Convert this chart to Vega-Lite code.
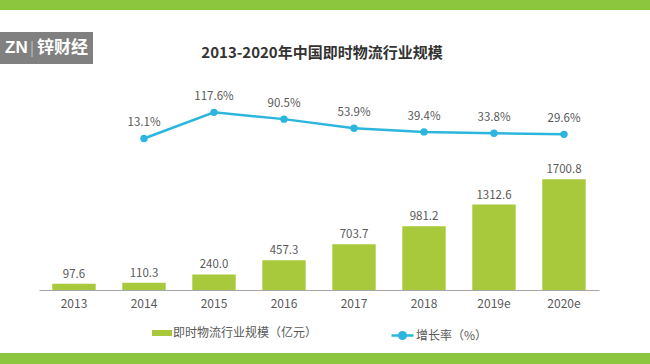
{
  "$schema": "https://vega.github.io/schema/vega-lite/v6.json",
  "width": 560,
  "height": 210,
  "autosize": {"type": "none"},
  "padding": {"left": 39, "top": 80, "right": 51, "bottom": 74},
  "background": "white",
  "config": {
    "view": {"stroke": null},
    "font": "Noto Sans CJK SC",
    "legend": {"labelFont": "Noto Sans CJK SC", "labelFontSize": 12, "labelColor": "#595959", "padding": 0, "labelOffset": 1}
  },
  "title": {
    "text": "2013-2020年中国即时物流行业规模",
    "font": "Noto Sans CJK SC",
    "fontSize": 15,
    "fontWeight": "bold",
    "color": "#333333",
    "anchor": "middle",
    "baseline": "middle",
    "dx": 3,
    "offset": -68
  },
  "data": {
    "values": [
      {"year": "2013", "scale": 97.6, "rate": null},
      {"year": "2014", "scale": 110.3, "rate": 0.131},
      {"year": "2015", "scale": 240.0, "rate": 1.176},
      {"year": "2016", "scale": 457.3, "rate": 0.905},
      {"year": "2017", "scale": 703.7, "rate": 0.539},
      {"year": "2018", "scale": 981.2, "rate": 0.394},
      {"year": "2019e", "scale": 1312.6, "rate": 0.338},
      {"year": "2020e", "scale": 1700.8, "rate": 0.296}
    ]
  },
  "encoding": {
    "x": {
      "field": "year",
      "type": "ordinal",
      "sort": null,
      "scale": {"paddingInner": 0.38, "paddingOuter": 0.19},
      "axis": {
        "title": null,
        "labelAngle": 0,
        "ticks": false,
        "labelPadding": 8,
        "labelFontSize": 12,
        "labelColor": "#595959",
        "labelFont": "Noto Sans CJK SC",
        "domainColor": "#a6a6a6",
        "domainWidth": 1.2
      }
    }
  },
  "layer": [
    {
      "layer": [
        {
          "mark": {"type": "bar"},
          "encoding": {
            "y": {"field": "scale", "type": "quantitative", "scale": {"domain": [0, 3226]}, "axis": null},
            "fill": {
              "datum": "即时物流行业规模（亿元）",
              "scale": {"range": ["#a7c93b"]},
              "legend": {
                "title": null,
                "orient": "none",
                "legendX": 113,
                "legendY": 243,
                "symbolType": "M-1,-0.3H1V0.3H-1Z",
                "symbolSize": 400,
                "symbolStrokeWidth": 0
              }
            }
          }
        },
        {
          "mark": {"type": "text", "dy": -9, "fontSize": 11.5, "color": "#595959"},
          "encoding": {
            "y": {"field": "scale", "type": "quantitative", "scale": {"domain": [0, 3226]}, "axis": null},
            "text": {"field": "scale", "type": "quantitative", "format": ".1f"}
          }
        }
      ]
    },
    {
      "layer": [
        {
          "mark": {"type": "line", "strokeWidth": 2.5},
          "encoding": {
            "y": {"field": "rate", "type": "quantitative", "scale": {"domain": [-5.93, 2.47]}, "axis": null},
            "stroke": {
              "datum": "增长率（%）",
              "scale": {"range": ["#2db6dd"]},
              "legend": {
                "title": null,
                "orient": "none",
                "legendX": 351,
                "legendY": 243,
                "symbolType": "M-1,0H1M0.3,0A0.3,0.3 0 1,1 -0.3,0A0.3,0.3 0 1,1 0.3,0Z",
                "symbolSize": 484,
                "symbolStrokeWidth": 2.5,
                "symbolFillColor": "#2db6dd"
              }
            }
          }
        },
        {
          "mark": {"type": "point", "filled": true, "size": 55, "color": "#2db6dd", "opacity": 1},
          "encoding": {
            "y": {"field": "rate", "type": "quantitative", "scale": {"domain": [-5.93, 2.47]}, "axis": null}
          }
        },
        {
          "mark": {"type": "text", "dy": -15, "fontSize": 11.5, "color": "#595959"},
          "encoding": {
            "y": {"field": "rate", "type": "quantitative", "scale": {"domain": [-5.93, 2.47]}, "axis": null},
            "text": {"field": "rate", "type": "quantitative", "format": ".1%"}
          }
        }
      ]
    },
    {
      "data": {"values": [{"part": "top"}]},
      "mark": {"type": "rect", "color": "#8cc63f"},
      "encoding": {
        "x": {"value": -39},
        "x2": {"value": 611},
        "y": {"value": -80},
        "y2": {"value": -70}
      }
    },
    {
      "data": {"values": [{"part": "bottom"}]},
      "mark": {"type": "rect", "color": "#8cc63f"},
      "encoding": {
        "x": {"value": -39},
        "x2": {"value": 611},
        "y": {"value": 273},
        "y2": {"value": 284}
      }
    },
    {
      "data": {"values": [{"part": "logo"}]},
      "mark": {"type": "rect", "color": "#808080"},
      "encoding": {
        "x": {"value": -39},
        "x2": {"value": 54},
        "y": {"value": -48},
        "y2": {"value": -16}
      }
    },
    {
      "data": {"values": [{"logo": "ZN"}]},
      "mark": {"type": "text", "color": "white", "fontSize": 17, "fontWeight": "bold", "font": "Liberation Sans", "align": "left", "baseline": "middle"},
      "encoding": {
        "x": {"value": -34},
        "y": {"value": -32},
        "text": {"field": "logo"}
      }
    },
    {
      "data": {"values": [{"logo": "|"}]},
      "mark": {"type": "text", "color": "#d9d9d9", "fontSize": 16, "font": "DejaVu Sans", "fontWeight": 200, "align": "center", "baseline": "middle"},
      "encoding": {
        "x": {"value": -7},
        "y": {"value": -32},
        "text": {"field": "logo"}
      }
    },
    {
      "data": {"values": [{"logo": "锌财经"}]},
      "mark": {"type": "text", "color": "white", "fontSize": 17, "fontWeight": "bold", "font": "Noto Sans CJK SC", "align": "left", "baseline": "middle"},
      "encoding": {
        "x": {"value": -2},
        "y": {"value": -32},
        "text": {"field": "logo"}
      }
    }
  ],
  "resolve": {"scale": {"y": "independent", "fill": "independent", "stroke": "independent"}}
}
